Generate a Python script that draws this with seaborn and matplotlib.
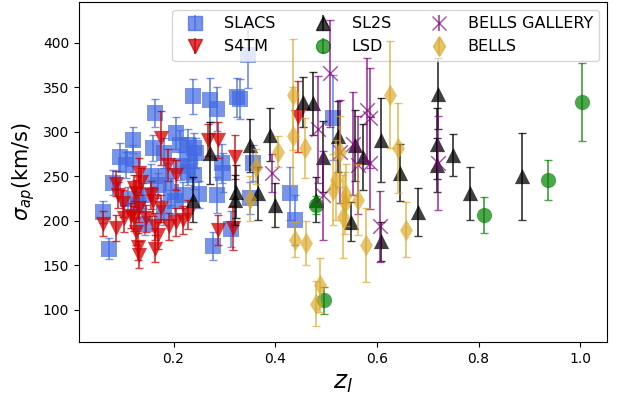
import numpy as np
import pandas as pd
import matplotlib
matplotlib.use("Agg")
import matplotlib.pyplot as plt
import seaborn as sns

# ---------------- data ----------------
slacs_z = [0.061, 0.073, 0.080, 0.094, 0.107, 0.120, 0.121, 0.163, 0.159, 0.156,
           0.182, 0.186, 0.205, 0.212, 0.228, 0.241, 0.232, 0.228, 0.241, 0.202,
           0.182, 0.140, 0.130, 0.143, 0.195, 0.218, 0.245, 0.238, 0.271, 0.285,
           0.277, 0.295, 0.297, 0.285, 0.324, 0.330, 0.346, 0.356, 0.350, 0.314,
           0.429, 0.438, 0.513, 0.170, 0.110, 0.215, 0.250]
slacs_sigma = [210, 169, 243, 272, 263, 270, 291, 321, 282, 250,
               276, 250, 299, 285, 285, 282, 267, 255, 252, 222,
               209, 229, 218, 197, 233, 229, 276, 340, 336, 326,
               172, 265, 254, 229, 339, 337, 386, 265, 226, 191,
               231, 201, 316, 240, 225, 262, 230]
slacs_err = [12, 12, 14, 16, 15, 15, 15, 16, 15, 14,
             17, 15, 18, 17, 18, 17, 16, 15, 16, 14,
             14, 14, 14, 13, 15, 15, 17, 20, 25, 25,
             16, 22, 22, 20, 22, 22, 37, 20, 18, 20,
             30, 28, 48, 14, 13, 16, 15]

s4tm_z = [0.061, 0.087, 0.087, 0.090, 0.100, 0.103, 0.123, 0.126, 0.133, 0.133,
          0.123, 0.126, 0.130, 0.133, 0.146, 0.156, 0.159, 0.163, 0.169, 0.163,
          0.176, 0.176, 0.189, 0.205, 0.192, 0.205, 0.218, 0.228, 0.136, 0.117,
          0.268, 0.287, 0.320, 0.287, 0.317, 0.445]
s4tm_sigma = [197, 242, 192, 229, 220, 203, 237, 231, 254, 214,
              203, 188, 171, 162, 203, 229, 222, 194, 184, 169,
              293, 214, 263, 252, 194, 199, 201, 207, 244, 206,
              291, 291, 272, 190, 192, 317]
s4tm_err = [14, 14, 15, 15, 15, 15, 15, 15, 17, 15,
            14, 15, 15, 15, 15, 16, 16, 15, 15, 15,
            30, 15, 18, 17, 15, 16, 16, 16, 15, 14,
            18, 20, 25, 17, 25, 40]

sl2s_z = [0.238, 0.271, 0.320, 0.323, 0.350, 0.366, 0.389, 0.399, 0.455, 0.474,
          0.494, 0.481, 0.524, 0.557, 0.573, 0.550, 0.609, 0.645, 0.609, 0.681,
          0.721, 0.718, 0.718, 0.750, 0.783, 0.885]
sl2s_sigma = [224, 276, 224, 233, 285, 231, 297, 218, 334, 332,
              272, 224, 295, 285, 272, 199, 291, 254, 177, 210,
              343, 287, 263, 274, 231, 250]
sl2s_err = [25, 35, 28, 30, 30, 30, 30, 25, 28, 35,
            40, 25, 40, 40, 37, 22, 47, 32, 22, 27,
            40, 40, 30, 24, 30, 49]

lsd_z = [0.481, 0.497, 0.810, 0.9375, 1.004]
lsd_sigma = [218, 111, 207, 246, 334]
lsd_err = [10, 15, 20, 22, 44]

gal_z = [0.394, 0.484, 0.494, 0.507, 0.527, 0.553, 0.563, 0.580, 0.586, 0.586,
         0.606, 0.721]
gal_sigma = [254, 303, 229, 366, 278, 287, 263, 325, 316, 265, 194, 265]
gal_err = [21, 60, 50, 60, 58, 58, 55, 58, 56, 52, 40, 53]

bells_z = [0.362, 0.350, 0.406, 0.436, 0.436, 0.458, 0.438, 0.461, 0.488, 0.481,
           0.626, 0.642, 0.520, 0.514, 0.540, 0.537, 0.563, 0.534, 0.578, 0.658,
           0.527]
bells_sigma = [261, 225, 278, 342, 295, 282, 179, 175, 128, 107,
               342, 282, 246, 235, 229, 220, 224, 205, 173, 190,
               278]
bells_err = [20, 25, 17, 62, 55, 34, 20, 25, 30, 25,
             60, 51, 45, 40, 35, 35, 40, 47, 42, 31,
             40]

labels = ["SLACS", "S4TM", "SL2S", "LSD", "BELLS GALLERY", "BELLS"]

# ---------------- styling ----------------
series = [
    (labels[0], slacs_z, slacs_sigma, slacs_err, "s", "royalblue", 0.7),
    (labels[1], s4tm_z, s4tm_sigma, s4tm_err, "v", "#d00000", 0.75),
    (labels[2], sl2s_z, sl2s_sigma, sl2s_err, "^", "black", 0.75),
    (labels[3], lsd_z, lsd_sigma, lsd_err, "o", "green", 0.7),
    (labels[4], gal_z, gal_sigma, gal_err, "x", "purple", 0.7),
    (labels[5], bells_z, bells_sigma, bells_err, "d", "goldenrod", 0.65),
]

fig = plt.figure(figsize=(6.17, 3.97), dpi=100)
ax = fig.add_axes([0.128, 0.1385, 0.856, 0.8565])

for i, (name, z, s, e, m, c, a) in enumerate(series):
    zo = 2 + i
    ax.errorbar(z, s, yerr=e, fmt="none", ecolor=c, elinewidth=1.3,
                capsize=3, alpha=a, zorder=zo)
    df = pd.DataFrame({"z": z, "sigma": s})
    if m == "x":
        sns.scatterplot(data=df, x="z", y="sigma", marker=m, color=c, alpha=a,
                        s=110, linewidth=1.0, ax=ax, zorder=zo, legend=False)
    else:
        sns.scatterplot(data=df, x="z", y="sigma", marker=m, color=c, alpha=a,
                        s=120, linewidth=0, ax=ax, zorder=zo, legend=False)
    # legend proxy (no data)
    ax.errorbar([], [], yerr=[], fmt=m, color=c, ms=10, elinewidth=1.3,
                capsize=3, alpha=a, label=name)

ax.set_xlim(0.014, 1.053)
ax.set_ylim(64, 446)
ax.set_xlabel(r"$z_l$", fontsize=18)
ax.set_ylabel(r"$\sigma_{ap}$(km/s)", fontsize=15)
ax.tick_params(labelsize=10)
ax.legend(ncol=3, loc="upper right", fontsize=11.5)

fig.savefig("out.png", dpi=100)
